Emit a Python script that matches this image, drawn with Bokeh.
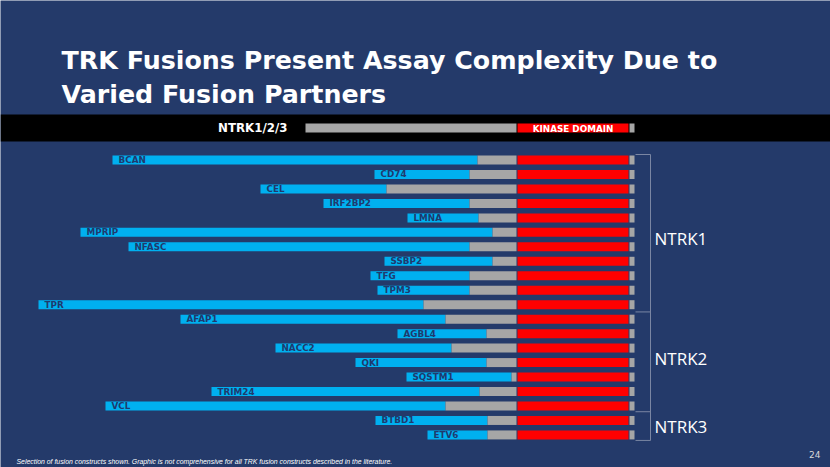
from bokeh.plotting import figure
from bokeh.models import Range1d, Label, ColumnDataSource
from bokeh.embed import file_html
from bokeh.resources import INLINE
from bokeh.core.properties import value

# ---- data -------------------------------------------------------------
partners = ["BCAN", "CD74", "CEL", "IRF2BP2", "LMNA", "MPRIP", "NFASC", "SSBP2",
            "TFG", "TPM3", "TPR", "AFAP1", "AGBL4", "NACC2", "QKI", "SQSTM1",
            "TRIM24", "VCL", "BTBD1", "ETV6"]
groups = ["NTRK1"] * 11 + ["NTRK2"] * 7 + ["NTRK3"] * 2
# construct coordinates (relative units along the drawing axis)
partner_start = [112, 374, 260, 323, 407, 80, 128, 384, 370, 377, 38,
                 180, 397, 275, 355, 406, 211, 105, 375, 427]
breakpoints = [477, 469, 386, 469, 478, 492, 469, 492, 469, 469, 423,
               445, 486, 451, 486, 511, 479, 445, 487, 487]
ntrk_full_start = 305
kinase_start = 517
kinase_end = 628
ntrk_end = 634
group_names = ["NTRK1", "NTRK2", "NTRK3"]

title_lines = ["TRK Fusions Present Assay Complexity Due to", "Varied Fusion Partners"]
footnote = ("Selection of fusion constructs shown. Graphic is not comprehensive "
            "for all TRK fusion constructs described in the literature.")

# ---- styling ------------------------------------------------------------
BG = "#243a6a"
BLUE = "#00b0f0"
GRAY = "#a6a6a6"
RED = "#ff0000"
LABEL = "#1f3a6e"

W, H = 830, 467
p = figure(width=W, height=H, output_backend="svg", toolbar_location=None,
           x_range=Range1d(0, W), y_range=Range1d(H, 0),
           min_border=0, background_fill_color=BG, border_fill_color=BG,
           outline_line_color=None)
p.axis.visible = False
p.grid.visible = False

# header band
p.quad(left=0, right=W, top=114, bottom=141, color="black", line_color=None)

hy, hh = 127.5, 4.5
p.quad(left=[ntrk_full_start], right=[kinase_start - 1], top=[hy - hh], bottom=[hy + hh],
       color=GRAY, line_color=None)
p.quad(left=[kinase_start], right=[kinase_end], top=[hy - hh], bottom=[hy + hh],
       color=RED, line_color=None)
p.quad(left=[kinase_end + 1], right=[ntrk_end], top=[hy - hh], bottom=[hy + hh],
       color=GRAY, line_color=None)
p.add_layout(Label(x=287, y=hy, text="NTRK1/2/3", text_align="right", text_baseline="middle",
                   text_font="DejaVu Sans", text_font_style="bold", text_font_size="11.8px",
                   text_color="white"))
p.add_layout(Label(x=(kinase_start + kinase_end) / 2, y=hy + 0.5, text="KINASE DOMAIN",
                   text_align="center", text_baseline="middle",
                   text_font="DejaVu Sans", text_font_style="bold", text_font_size="8.8px",
                   text_color="white"))

# rows
y0, pitch, half = 159.5, 14.47, 4.5
ys = [y0 + i * pitch for i in range(len(partners))]
src = ColumnDataSource(dict(
    partner=partners, start=partner_start, bp=breakpoints,
    top=[y - half for y in ys], bottom=[y + half for y in ys], y=ys,
    gray_right=[kinase_start - 1] * len(ys),
    k0=[kinase_start] * len(ys), k1=[kinase_end] * len(ys),
    t0=[kinase_end + 1] * len(ys), t1=[ntrk_end] * len(ys),
    lx=[s + 6 for s in partner_start],
))
p.quad(left="start", right="bp", top="top", bottom="bottom", source=src,
       color=BLUE, line_color=None)
p.quad(left="bp", right="gray_right", top="top", bottom="bottom", source=src,
       color=GRAY, line_color=None)
p.quad(left="k0", right="k1", top="top", bottom="bottom", source=src,
       color=RED, line_color=None)
p.quad(left="t0", right="t1", top="top", bottom="bottom", source=src,
       color=GRAY, line_color=None)
p.text(x="lx", y="y", text="partner", source=src, text_baseline="middle",
       text_font=value("DejaVu Sans"), text_font_style="bold", text_font_size="8.8px",
       text_color=LABEL)

# brackets
bx = 650
n1 = groups.count("NTRK1")
n2 = groups.count("NTRK2")
b_top = ys[0] - 5.5
b_12 = (ys[n1 - 1] + ys[n1]) / 2
b_23 = (ys[n1 + n2 - 1] + ys[n1 + n2]) / 2 - 1.5
b_bot = ys[-1] + 5.5
BR = "#7a86a3"
p.segment(x0=[bx], y0=[b_top], x1=[bx], y1=[b_bot], line_color=BR, line_width=1)
p.segment(x0=[ntrk_end + 1] * 4, y0=[b_top, b_12, b_23, b_bot],
          x1=[bx] * 4, y1=[b_top, b_12, b_23, b_bot], line_color=BR, line_width=1)
for name, gy in zip(group_names, [238, 358, 426]):
    p.add_layout(Label(x=654, y=gy, text=name, text_baseline="middle",
                       text_font="Open Sans", text_font_size="17px", text_color="white"))

# title
for line, by in zip(title_lines, [59.5, 93.5]):
    p.add_layout(Label(x=61, y=by, text=line, text_baseline="alphabetic",
                       text_font="DejaVu Sans", text_font_style="bold",
                       text_font_size="25.3px", text_color="white"))

# footnote and page number
p.add_layout(Label(x=16, y=461, text=footnote, text_baseline="middle",
                   text_font="Liberation Sans", text_font_style="italic",
                   text_font_size="6.9px", text_color="white"))
p.add_layout(Label(x=820, y=454, text="24", text_align="right", text_baseline="middle",
                   text_font="DejaVu Sans", text_font_size="9px", text_color="#d9d9d9"))

open("out.html", "w").write(file_html(p, INLINE))
